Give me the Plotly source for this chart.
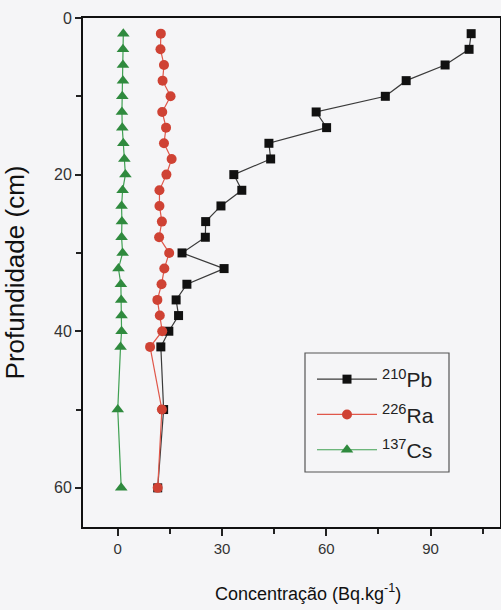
import plotly.graph_objects as go

# ---- data ----
depth_cm = [2, 4, 6, 8, 10, 12, 14, 16, 18, 20, 22, 24, 26, 28, 30, 32, 34, 36, 38, 40, 42, 50, 60]
pb210 = [101.7, 101.1, 94.2, 83.0, 77.0, 57.1, 60.1, 43.5, 44.0, 33.4, 35.7, 29.7, 25.3, 25.2,
         18.5, 30.6, 19.9, 16.8, 17.5, 14.7, 12.4, 13.2, 11.5]
ra226 = [12.4, 12.3, 13.3, 12.9, 15.2, 12.8, 13.9, 13.3, 15.5, 14.0, 12.0, 12.0, 12.7, 11.9,
         14.8, 13.4, 12.6, 11.4, 12.1, 12.8, 9.3, 12.7, 11.5]
cs137 = [1.6, 1.5, 1.5, 1.5, 1.3, 1.2, 1.3, 1.6, 1.9, 2.2, 1.4, 1.1, 1.2, 1.1,
         1.4, 0.2, 0.9, 1.0, 1.1, 1.1, 0.8, 0.0, 1.0]
series_names = ["<sup>210</sup>Pb", "<sup>226</sup>Ra", "<sup>137</sup>Cs"]
x_tick_vals = [0, 30, 60, 90]
y_tick_vals = [0, 20, 40, 60]
x_title = "Concentração (Bq.kg<sup>-1</sup>)"
y_title = "Profundidade (cm)"

FONT = "'Liberation Sans', Arial, sans-serif"
BG = "#f5f5f7"

fig = go.Figure()
fig.add_trace(go.Scatter(
    x=pb210, y=depth_cm, mode="lines+markers", name=series_names[0], legendgroup="a",
    line=dict(color="#3a3a3a", width=1.2),
    marker=dict(symbol="square", size=9, color="#111111"),
))
fig.add_trace(go.Scatter(
    x=ra226, y=depth_cm, mode="lines+markers", name=series_names[1], legendgroup="b",
    line=dict(color="#e0574a", width=1.2),
    marker=dict(symbol="circle", size=10, color="#cf4234"),
))
fig.add_trace(go.Scatter(
    x=cs137, y=depth_cm, mode="lines+markers", name=series_names[2], legendgroup="c",
    line=dict(color="#3fa052", width=1.2),
    marker=dict(symbol="triangle-up", size=11, color="#2f8a3e"),
))

L, R, T, B = 83, 1, 18, 83
W, H = 501, 610
pw, ph = W - L - R, H - T - B

def px2paper_x(px):
    return (px - L) / pw

def px2paper_y(py):
    return (H - B - py) / ph

fig.update_layout(
    width=W, height=H,
    margin=dict(l=L, r=R, t=T, b=B, autoexpand=False),
    paper_bgcolor=BG, plot_bgcolor=BG,
    font=dict(family=FONT, color="#222"),
    showlegend=True,
    legend=dict(
        x=px2paper_x(312), y=px2paper_y(359), xanchor="left", yanchor="top",
        bgcolor="rgba(0,0,0,0)", borderwidth=0,
        font=dict(size=21, family=FONT, color="#222"),
        tracegroupgap=5, itemwidth=60,
    ),
    shapes=[dict(
        type="rect", xref="paper", yref="paper",
        x0=px2paper_x(305), x1=px2paper_x(449),
        y0=px2paper_y(472), y1=px2paper_y(353),
        line=dict(color="#555", width=1.2), fillcolor="rgba(0,0,0,0)",
    )],
    annotations=[dict(
        text=x_title, xref="paper", yref="paper",
        x=px2paper_x(308), y=px2paper_y(592), xanchor="center", yanchor="middle",
        showarrow=False, font=dict(size=18, color="#111", family=FONT),
    )],
)

fig.update_xaxes(
    range=[-10, 110], tickvals=x_tick_vals, ticks="outside", ticklen=7, tickwidth=1.5,
    tickcolor="#222", showline=True, linecolor="#111", linewidth=2, mirror=True,
    showgrid=False, zeroline=False, automargin=False,
    tickfont=dict(size=15, color="#333"),
    minor=dict(tick0=15, dtick=30, ticks="outside", ticklen=5, tickwidth=1.5, tickcolor="#222", showgrid=False),
)
fig.update_yaxes(
    range=[65, 0], tickvals=y_tick_vals, ticks="outside", ticklen=6, tickwidth=1.5,
    tickcolor="#222", showline=True, linecolor="#111", linewidth=2, mirror=True,
    showgrid=False, zeroline=False, automargin=False,
    tickfont=dict(size=16, color="#333"),
    minor=dict(tick0=10, dtick=20, ticks="outside", ticklen=5, tickwidth=1.5, tickcolor="#222", showgrid=False),
    title=dict(text=y_title, font=dict(size=26, color="#111"), standoff=22),
)

fig.write_html(
    "out.html",
    config={"displayModeBar": False},
    post_script=(
        "document.body.style.margin='0';"
        "document.body.style.overflow='hidden';"
        "document.documentElement.style.overflow='hidden';"
        "document.body.style.background='" + BG + "';"
    ),
)
